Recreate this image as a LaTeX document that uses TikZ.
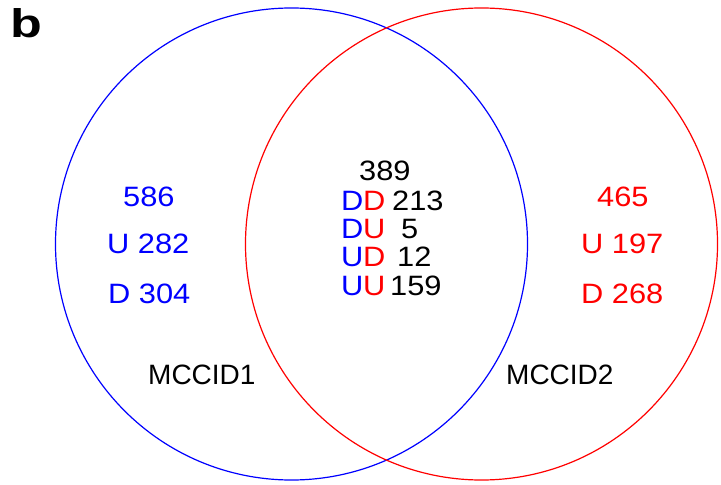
\documentclass[tikz,border=0pt]{standalone}
\usepackage{fontspec}
\setmainfont{Liberation Sans}
\newfontfamily\widefont{Liberation Sans}[FakeStretch=1.1]
\newfontfamily\bfont{Liberation Sans}[FakeStretch=1.3]
\definecolor{vblue}{RGB}{0,0,255}
\definecolor{vred}{RGB}{255,0,0}
\begin{document}
\begin{tikzpicture}[x=1bp,y=-1bp,
  lbl/.style={inner sep=0pt,anchor=base west,font=\widefont\fontsize{28bp}{30bp}\selectfont},
  bl/.style={lbl,text=vblue},
  rd/.style={lbl,text=vred},
  bk/.style={lbl,text=black},
  setname/.style={inner sep=0pt,anchor=base west,text=black,font=\fontsize{28bp}{30bp}\selectfont},
  ring/.style={line width=1.2bp}]
\useasboundingbox (0,0) rectangle (721,485);
\node[ring,draw=vblue,circle,minimum size=472bp,inner sep=0pt] (c1) at (291.5,244) {};
\node[ring,draw=vred,circle,minimum size=472bp,inner sep=0pt] (c2) at (481.5,244) {};
\node[inner sep=0pt,anchor=base west,font=\bfont\fontsize{40bp}{44bp}\selectfont\bfseries] (b) at (10,38) {b};
% left
\node[bl] (l1) at (123,207) {586};
\node[bl] (l2) at (107,254) {U 282};
\node[bl] (l3) at (108,303) {D 304};
% right
\node[rd] (r1) at (597,207) {465};
\node[rd] (r2) at (581,254) {U 197};
\node[rd] (r3) at (581,303) {D 268};
% center
\node[bk] (m0) at (359,181) {389};
\node[bl] (m1a) at (341,211) {D};
\node[rd] (m1b) at (363,211) {D};
\node[bk] (m1c) at (392,211) {213};
\node[bl] (m2a) at (341,239) {D};
\node[rd] (m2b) at (363,239) {U};
\node[bk] (m2c) at (401,239) {5};
\node[bl] (m3a) at (341,267) {U};
\node[rd] (m3b) at (363,267) {D};
\node[bk] (m3c) at (397,267) {12};
\node[bl] (m4a) at (341,295) {U};
\node[rd] (m4b) at (363,295) {U};
\node[bk] (m4c) at (390,295) {159};
% set names
\node[setname] (n1) at (148,384) {MCCID1};
\node[setname] (n2) at (506,384) {MCCID2};
\end{tikzpicture}
\end{document}
